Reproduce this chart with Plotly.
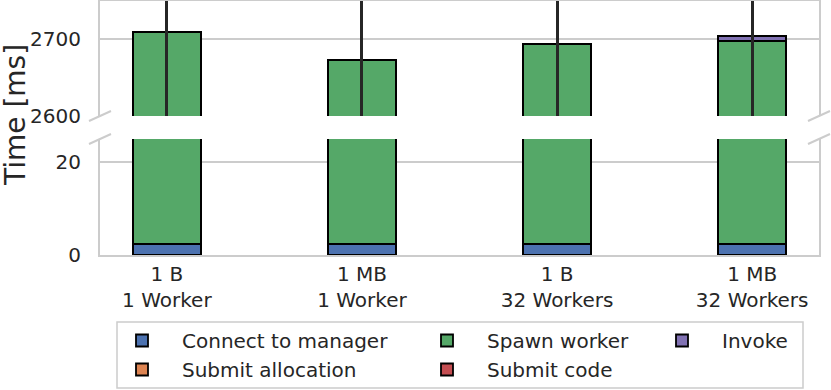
import plotly.graph_objects as go

# --- data ---
categories = ["1 B<br>1 Worker", "1 MB<br>1 Worker", "1 B<br>32 Workers", "1 MB<br>32 Workers"]
connect = [2.4, 2.4, 2.4, 2.4]
submit_alloc = [0.05, 0.05, 0.05, 0.05]
spawn = [2707.0, 2670.0, 2691.0, 2695.0]
submit_code = [0.05, 0.05, 0.05, 0.05]
invoke = [0.6, 0.6, 0.6, 6.4]
total_err = [310, 330, 300, 320]

series = [
    ("Connect to manager", connect, "#4C72B0", "legend", 1),
    ("Submit allocation", submit_alloc, "#DD8452", "legend", 2),
    ("Spawn worker", spawn, "#55A868", "legend2", 1),
    ("Submit code", submit_code, "#C44E52", "legend2", 2),
    ("Invoke", invoke, "#8172B3", "legend3", 1),
]

FONT = "DejaVu Sans"
TXT = "#262626"
GRID = "#cccccc"
W, H = 831, 390
L, R, T, B = 100, 12, 1, 135
pw, ph = W - L - R, H - T - B


def px(x):
    return (x - L) / pw


def py(y):
    return (H - B - y) / ph


fig = go.Figure()
for name, vals, col, leg, rank in series:
    # bottom panel (0..25)
    fig.add_trace(go.Bar(
        x=categories, y=vals, name=name, marker_color=col,
        marker_line=dict(color="black", width=1.8), width=0.35,
        legend=leg, legendrank=rank, xaxis="x", yaxis="y",
    ))
    # top panel (2600..2750)
    err = dict(type="data", array=total_err, visible=True, color="#262626",
               thickness=3, width=0) if name == "Invoke" else None
    fig.add_trace(go.Bar(
        x=categories, y=vals, name=name, marker_color=col,
        marker_line=dict(color="black", width=1.8), width=0.35,
        showlegend=False, xaxis="x2", yaxis="y2", error_y=err,
    ))

xr = [-0.3425, 3.3425]
ax_common = dict(showline=True, linecolor=GRID, linewidth=2, zeroline=False,
                 automargin=False, tickfont=dict(family=FONT, size=20, color=TXT))

leg_common = dict(xanchor="left", yanchor="top", orientation="v", itemwidth=70,
                  traceorder="normal", bgcolor="rgba(0,0,0,0)",
                  font=dict(family=FONT, size=20, color=TXT))

fig.update_layout(
    width=W, height=H,
    margin=dict(l=L, r=R, t=T, b=B, autoexpand=False),
    barmode="stack",
    plot_bgcolor="white", paper_bgcolor="white",
    font=dict(family=FONT, size=20, color=TXT),
    xaxis=dict(ax_common, type="category", range=xr, anchor="y", showgrid=False,
               ticks="", ticklabelstandoff=0),
    xaxis2=dict(ax_common, type="category", range=xr, anchor="y2", side="top",
                showgrid=False, showticklabels=False, matches="x"),
    yaxis=dict(ax_common, domain=[0, py(139)], range=[0, 25], dtick=20,
               mirror=True, showgrid=True, gridcolor=GRID, gridwidth=1.5,
               ticks="", ticklabelstandoff=13),
    yaxis2=dict(ax_common, domain=[py(116), 1], range=[2600, 2750], dtick=100,
                mirror=True, showgrid=True, gridcolor=GRID, gridwidth=1.5,
                ticks="", ticklabelstandoff=13),
    legend=dict(leg_common, x=px(102), y=py(321)),
    legend2=dict(leg_common, x=px(407), y=py(321)),
    legend3=dict(leg_common, x=px(642), y=py(321)),
    showlegend=True,
)

# y axis title between the two panels
fig.add_annotation(text="Time [ms]", xref="paper", yref="paper",
                   x=px(15), y=py(115), xanchor="center", yanchor="middle",
                   textangle=-90, showarrow=False,
                   font=dict(family=FONT, size=28, color=TXT))

# broken-axis marks
marks = [(100, 116), (819, 116), (100, 139), (819, 139)]
for cx, cy in marks:
    fig.add_shape(type="line", xref="paper", yref="paper",
                  x0=px(cx - 11), y0=py(cy + 5), x1=px(cx + 11), y1=py(cy - 5),
                  line=dict(color=GRID, width=2))

# legend frame
fig.add_shape(type="rect", xref="paper", yref="paper",
              x0=px(117), y0=py(388), x1=px(803), y1=py(322),
              line=dict(color=GRID, width=1.5), fillcolor="rgba(0,0,0,0)")

fig.write_html("out.html", config={"displayModeBar": False},
               post_script="document.body.style.margin='0';")
